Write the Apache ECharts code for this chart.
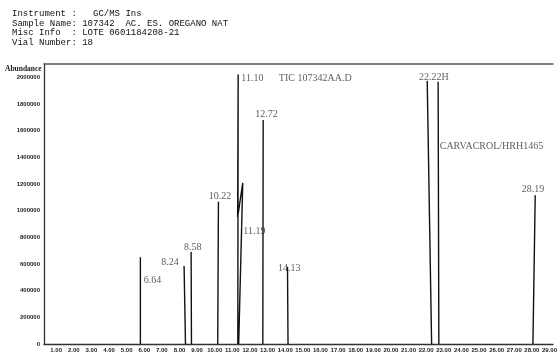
<!DOCTYPE html>
<html>
<head>
<meta charset="utf-8">
<script src="https://cdn.jsdelivr.net/npm/echarts@6/dist/echarts.min.js"></script>
<style>html,body{margin:0;padding:0;background:#fff}#c{width:560px;height:353px}</style>
</head>
<body>
<div id="c"></div>
<script>
// Header text
const headerLines = [
  'Instrument :   GC/MS Ins',
  'Sample Name: 107342  AC. ES. OREGANO NAT',
  'Misc Info  : LOTE 0601184208-21',
  'Vial Number: 18'
];
// Axis ticks
const xTickValues = [1,2,3,4,5,6,7,8,9,10,11,12,13,14,15,16,17,18,19,20,21,22,23,24,25,26,27,28,29];
const yTickValues = [0,200000,400000,600000,800000,1000000,1200000,1400000,1600000,1800000,2000000];
// Peak traces (retention time in min, abundance)
const peakTimes = [
  [5.78, 5.78],
  [8.34, 8.26],
  [8.68, 8.66],
  [10.17, 10.21],
  [11.31, 11.33, 11.30, 11.59, 11.36],
  [12.73, 12.75],
  [14.16, 14.13],
  [22.31, 22.06],
  [22.72, 22.68],
  [28.06, 28.19]
];
const peakAbund = [
  [0, 650000],
  [0, 585000],
  [0, 690000],
  [0, 1066000],
  [0, 2022000, 950000, 1208000, 0],
  [0, 1680000],
  [0, 580000],
  [0, 1975000],
  [0, 1967000],
  [0, 1116000]
];
// Annotations
const labelTexts = ['6.64','8.24','8.58','10.22','11.10','11.19','12.72','14.13','TIC 107342AA.D','22.22H','CARVACROL/HRH1465','28.19'];
const labelTimes = [5.97, 6.97, 8.26, 9.66, 11.51, 11.62, 12.30, 13.59, 13.64, 21.60, 22.77, 27.42];
const labelAbund = [480000, 615000, 727500, 1110000, 1995000, 847500, 1725000, 570000, 1995000, 2002500, 1485000, 1162500];

const lineData = [];
peakTimes.forEach((ts, i) => {
  if (i > 0) lineData.push('-');
  ts.forEach((t, j) => lineData.push([t, peakAbund[i][j]]));
});
const labelData = labelTexts.map((s, i) => ({ name: s, value: [labelTimes[i], labelAbund[i]] }));

const chart = echarts.init(document.getElementById('c'), null, { renderer: 'canvas' });
chart.setOption({
  animation: false,
  backgroundColor: '#fff',
  grid: { left: 44, right: 0, top: 64, bottom: 9, containLabel: false },
  xAxis: [{
    type: 'value', min: 0.31, max: 29.2,
    axisLine: { show: true, lineStyle: { color: '#333', width: 1.3 } },
    axisTick: { show: false },
    splitLine: { show: false },
    axisLabel: {
      customValues: xTickValues,
      formatter: v => Number(v).toFixed(2),
      fontSize: 6, fontWeight: 'bold', color: '#222', margin: 3,
      fontFamily: 'Liberation Sans'
    }
  }, {
    type: 'value', min: 0.31, max: 29.2, position: 'top',
    axisLine: { show: true, onZero: false, lineStyle: { color: '#555', width: 1.5 } },
    axisTick: { show: false }, axisLabel: { show: false }, splitLine: { show: false }
  }],
  yAxis: {
    type: 'value', min: 0, max: 2100000,
    axisLine: { show: true, lineStyle: { color: '#333', width: 1.3 } },
    axisTick: { show: false },
    splitLine: { show: false },
    axisLabel: {
      customValues: yTickValues,
      formatter: v => String(v),
      fontSize: 6, fontWeight: 'bold', color: '#222', margin: 4,
      fontFamily: 'Liberation Sans'
    }
  },
  series: [{
    type: 'line', xAxisIndex: 0, data: lineData, showSymbol: false, symbol: 'none',
    connectNulls: false,
    lineStyle: { color: '#111', width: 1.4 }, silent: true
  }, {
    type: 'scatter', xAxisIndex: 0, data: labelData, symbolSize: 0, silent: true,
    label: {
      show: true, position: 'right', distance: 0,
      formatter: p => p.name,
      fontFamily: 'Liberation Serif', fontSize: 10, color: '#333'
    }
  }],
  graphic: [
    ...headerLines.map((s, i) => ({
      type: 'text', left: 12, top: [9, 19, 28, 38][i],
      style: { text: s, font: '9px "Liberation Mono"', fill: '#111' }
    })),
    { type: 'text', left: 5, top: 65,
      style: { text: 'Abundance', font: 'bold 7.5px "Liberation Serif"', fill: '#222' } }
  ]
});
</script>
</body>
</html>
